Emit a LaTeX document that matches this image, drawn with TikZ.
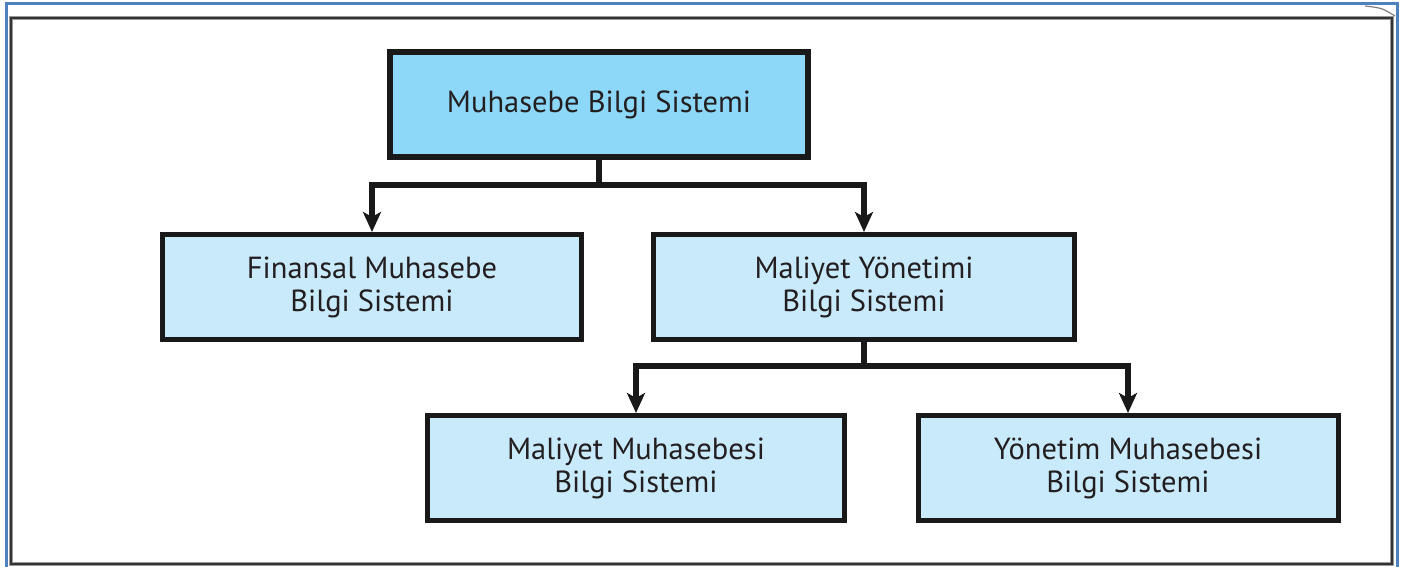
\documentclass[tikz,border=0pt]{standalone}
\usepackage{fontspec}
\setmainfont{PT Sans}
\usepackage{xcolor}
\usetikzlibrary{arrows.meta,calc}
\definecolor{topblue}{HTML}{8DD8F8}
\definecolor{subblue}{HTML}{C8EAFA}
\definecolor{framblue}{HTML}{4F81BD}
\definecolor{textgray}{HTML}{231F20}

\begin{document}
\begin{tikzpicture}
    [%%%%%%%%%%%%%%%%%%%%%%%%%%%%%%
        x=1pt,y=-1pt,
        box/.style={draw=black!90, line width=5pt, minimum width=418pt, minimum height=105pt,
            inner sep=0pt, align=center, text=textgray, font=\fontsize{30.5}{33}\selectfont},
        topbox/.style={box, fill=topblue, line width=6pt},
        subbox/.style={box, fill=subblue},
        stem/.style={draw=black!90, line width=5.5pt, line join=miter},
        link/.style={stem, -{Stealth[length=20pt,width=18pt,inset=5pt]}},
    ]%%%%%%%%%%%%%%%%%%%%%%%%%%%%%%

\useasboundingbox (0,0) rectangle (1403,567);

% frame
\draw[framblue, line width=3pt] (6,4) rectangle (1397,572);
\draw[black!40, line width=3.5pt] (11,18) rectangle (1392,564);
\draw[black!80, line width=1.5pt] (11,18) rectangle (1392,564);
\draw[black!50, line width=1.2pt] (1365,6) .. controls (1382,8) .. (1395,16);

% boxes
\node[topbox] (msb) at (599,105) {Muhasebe Bilgi Sistemi};
\node[subbox, minimum width=419pt] (fmbs) at (372,287) {Finansal Muhasebe\\Bilgi Sistemi};
\node[subbox, minimum width=421pt] (mybs) at (864,287) {Maliyet Yönetimi\\Bilgi Sistemi};
\node[subbox, minimum width=417pt] (mmbs) at (636,468) {Maliyet Muhasebesi\\Bilgi Sistemi};
\node[subbox, minimum width=420pt] (ymbs) at (1128,468) {Yönetim Muhasebesi\\Bilgi Sistemi};

% connectors
\coordinate (j1) at ($(msb.south |- 0,185)$);
\coordinate (j2) at ($(mybs.south |- 0,366)$);

\draw[stem] (msb.south) -- (j1);
\draw[stem] (mybs.south) -- (j2);
\foreach \j/\t in {j1/fmbs,j1/mybs,j2/mmbs,j2/ymbs}{
    \draw[link] (\j) -| (\t.north);
}

\end{tikzpicture}
\end{document}
